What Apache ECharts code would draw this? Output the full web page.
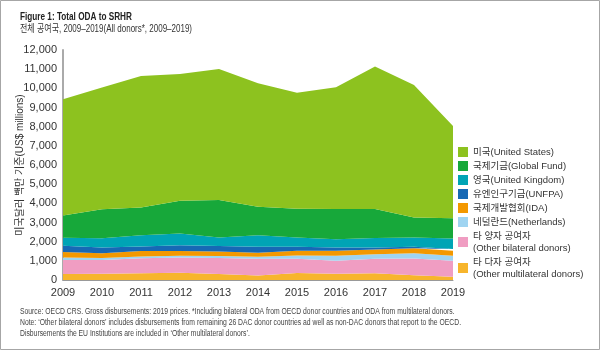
<!DOCTYPE html>
<html>
<head>
<meta charset="utf-8">
<script src="https://cdn.jsdelivr.net/npm/echarts@6/dist/echarts.min.js"></script>
<style>
body { margin: 0; background: #fff; }
#chart { width: 600px; height: 350px; }
</style>
</head>
<body>
<div id="chart"></div>
<script>
var years = ['2009', '2010', '2011', '2012', '2013', '2014', '2015', '2016', '2017', '2018', '2019']

// 단위: US$ millions
var unitedStates = [6070, 6360, 6870, 6610, 6840, 6440, 6050, 6360, 7440, 6920, 4810]
var globalFund = [1150, 1510, 1440, 1720, 1950, 1480, 1500, 1570, 1510, 1040, 1060]
var unitedKingdom = [420, 490, 590, 610, 450, 610, 490, 440, 500, 490, 540]
var unfpa = [330, 300, 240, 300, 280, 310, 210, 160, 100, 70, 90]
var ida = [280, 240, 280, 240, 240, 210, 240, 260, 240, 260, 260]
var netherlands = [140, 110, 100, 90, 100, 100, 170, 260, 240, 280, 260]
var otherBilateral = [730, 710, 780, 800, 840, 870, 750, 680, 760, 870, 840]
var otherMultilateral = [310, 330, 350, 380, 310, 240, 360, 330, 350, 250, 170]

var yTicks = [0, 1000, 2000, 3000, 4000, 5000, 6000, 7000, 8000, 9000, 10000, 11000, 12000]

var names = {
	us: '미국(United States)',
	gf: '국제기금(Global Fund)',
	uk: '영국(United Kingdom)',
	unfpa: '유엔인구기금(UNFPA)',
	ida: '국제개발협회(IDA)',
	nl: '네덜란드(Netherlands)',
	bi: '타 양자 공여자\n(Other bilateral donors)',
	multi: '타 다자 공여자\n(Other multilateral donors)'
}

var font = "'Liberation Sans', 'Noto Sans CJK KR', sans-serif"

function layer(name, data, color) {
	return {
		name: name,
		type: 'line',
		stack: 'total',
		data: data,
		symbol: 'none',
		lineStyle: { width: 0 },
		areaStyle: { color: color, opacity: 1 },
		itemStyle: { color: color },
		emphasis: { disabled: true }
	}
}

// 원본 글꼴이 좁아서 가로로 조금 줄여서 그림
function note(x, y, text, size, sx, extra) {
	var style = { text: text, font: size + 'px ' + font, fill: '#333', verticalAlign: 'top' }
	for (var k in extra) style[k] = extra[k]
	return { type: 'text', x: x, y: y, scaleX: sx, style: style }
}

var chart = echarts.init(document.getElementById('chart'))

var option = {
	animation: false,
	textStyle: { fontFamily: font },
	grid: { left: 63, right: 147, top: 50, bottom: 70, outerBoundsMode: 'none' },
	graphic: [
		{ type: 'rect', shape: { x: 0.5, y: 0.5, width: 599, height: 349 }, style: { fill: 'none', stroke: '#a6a6a6', lineWidth: 1 } },
		note(20, 12, 'Figure 1: Total ODA to SRHR', 'bold 10', 0.82, { fill: '#222' }),
		note(20, 24, '전체 공여국, 2009–2019(All donors*, 2009–2019)', '10', 0.8, {}),
		note(20, 306, 'Source: OECD CRS. Gross disbursements: 2019 prices. *Including bilateral ODA from OECD donor countries and ODA from multilateral donors.\n' +
			'Note: ‘Other bilateral donors’ includes disbursements from remaining 26 DAC donor countries ad well as non-DAC donors that report to the OECD.\n' +
			'Disbursements the EU Institutions are included in ‘Other multilateral donors’.', '8.5', 0.8, { fill: '#444', lineHeight: 11 })
	],
	legend: {
		orient: 'vertical',
		left: 458,
		top: 146,
		padding: 0,
		itemWidth: 10,
		itemHeight: 10,
		itemGap: 2,
		itemStyle: { borderWidth: 0 },
		icon: 'rect',
		textStyle: { fontSize: 9.5, color: '#333', lineHeight: 12, fontFamily: font },
		data: [names.us, names.gf, names.uk, names.unfpa, names.ida, names.nl, names.bi, names.multi]
	},
	xAxis: {
		type: 'category',
		boundaryGap: false,
		data: years,
		axisLine: { lineStyle: { color: '#999' } },
		axisTick: { show: false },
		axisLabel: { color: '#333', fontSize: 11, margin: 7 }
	},
	yAxis: {
		type: 'value',
		min: yTicks[0],
		max: yTicks[yTicks.length - 1],
		interval: 1000,
		name: '미국달러 백만 기준(US$ millions)',
		nameLocation: 'middle',
		nameGap: 38,
		nameMoveOverlap: false,
		nameTextStyle: { color: '#333', fontSize: 10 },
		axisLine: { show: true, lineStyle: { color: '#aaa', width: 2 } },
		axisTick: { show: false },
		splitLine: { show: false },
		axisLabel: {
			color: '#333',
			fontSize: 11,
			margin: 6,
			formatter: function(v) { return v.toLocaleString('en-US') }
		}
	},
	series: [
		layer(names.multi, otherMultilateral, '#f7b52c'),
		layer(names.bi, otherBilateral, '#f09dc2'),
		layer(names.nl, netherlands, '#9fd4f1'),
		layer(names.ida, ida, '#f39800'),
		layer(names.unfpa, unfpa, '#1769b5'),
		layer(names.uk, unitedKingdom, '#00a4b5'),
		layer(names.gf, globalFund, '#17a83a'),
		layer(names.us, unitedStates, '#8dc21f')
	]
}

chart.setOption(option)
</script>
</body>
</html>
